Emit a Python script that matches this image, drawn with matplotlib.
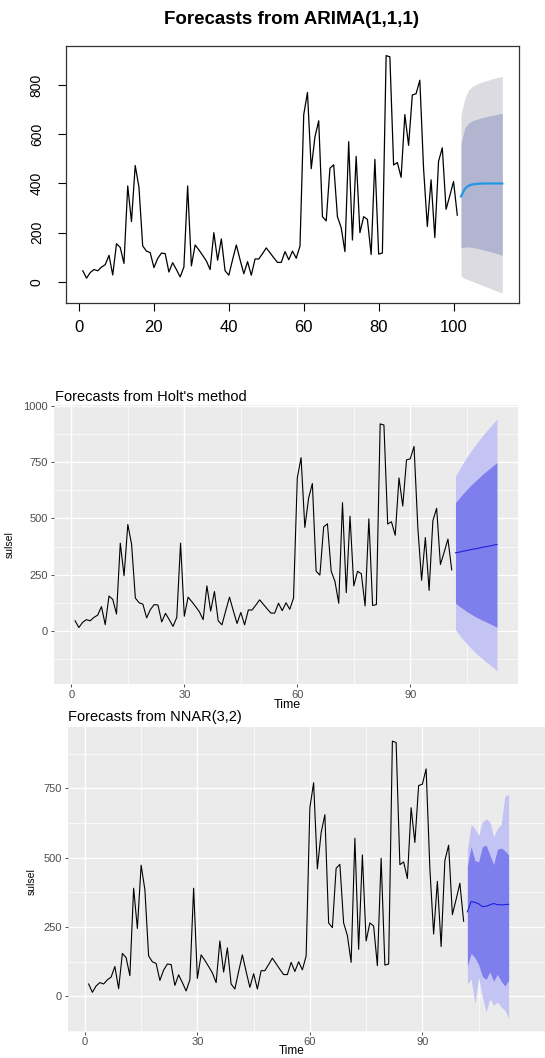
import matplotlib
matplotlib.use("Agg")
import matplotlib.pyplot as plt
import numpy as np

plt.rcParams['font.family'] = ['Liberation Sans', 'DejaVu Sans']

# observed series (t = 1..101)
sulsel = [45, 15, 38, 50, 45, 60, 70, 108, 28, 155,
          140, 75, 390, 245, 473, 385, 146, 125, 119, 58,
          95, 117, 115, 40, 78, 50, 20, 60, 390, 65,
          150, 130, 108, 85, 50, 200, 88, 175, 45, 27,
          90, 150, 90, 33, 82, 27, 93, 93, 115, 138,
          118, 98, 79, 79, 123, 90, 125, 96, 146, 680,
          770, 460, 590, 655, 265, 248, 462, 476, 265, 220,
          123, 570, 170, 510, 200, 265, 254, 111, 498, 113,
          117, 920, 915, 475, 485, 425, 680, 555, 760, 765,
          820, 460, 225, 415, 180, 490, 545, 295, 350, 408,
          271]
time = list(range(1, len(sulsel) + 1))
ftime = list(range(102, 114))

# ARIMA(1,1,1) forecast
arima_mean = [347, 378, 391, 396, 398, 399, 400, 400, 400, 400, 400, 400]
arima_lo80 = [138, 141, 142, 140, 137, 134, 130, 126, 122, 118, 113, 108]
arima_hi80 = [563, 625, 645, 655, 660, 665, 669, 673, 676, 679, 682, 685]
arima_lo95 = [23, 14, 8, 2, -4, -10, -16, -22, -28, -34, -40, -46]
arima_hi95 = [678, 745, 780, 795, 803, 809, 814, 819, 824, 828, 832, 836]

# Holt's method forecast
holt_mean = [347, 350, 354, 357, 361, 364, 367, 371, 374, 377, 381, 384]
holt_lo80 = [124, 110, 98, 86, 76, 66, 57, 49, 41, 33, 25, 16]
holt_hi80 = [570, 590, 610, 628, 646, 662, 677, 693, 707, 721, 735, 748]
holt_lo95 = [6, -17, -38, -58, -75, -92, -108, -122, -136, -149, -162, -178]
holt_hi95 = [688, 717, 746, 772, 797, 820, 842, 864, 884, 903, 922, 941]

# NNAR(3,2) forecast
nnar_mean = [305, 342, 339, 334, 324, 325, 330, 335, 331, 330, 331, 332]
nnar_lo80 = [110, 155, 140, 115, 72, 62, 88, 55, 80, 55, 38, 58]
nnar_hi80 = [470, 540, 490, 485, 540, 545, 510, 475, 530, 535, 525, 510]
nnar_lo95 = [45, 63, -26, 69, -2, -56, -8, -32, -20, -38, -50, -80]
nnar_hi95 = [530, 620, 605, 580, 630, 640, 630, 575, 605, 620, 722, 728]

W, H = 545, 1058
fig = plt.figure(figsize=(W / 100, H / 100), dpi=100)


def px_axes(l, t, r, b):
    return fig.add_axes([l / W, 1 - b / H, (r - l) / W, (b - t) / H])


def ftext(x, y, s, **kw):
    fig.text(x / W, 1 - y / H, s, **kw)


# ---- top: base R style ----
ax1 = px_axes(66, 46, 519, 303)
ax1.fill_between(ftime, arima_lo95, arima_hi95, color='#DBDBE1', lw=0)
ax1.fill_between(ftime, arima_lo80, arima_hi80, color='#B1B5CF', lw=0)
ax1.plot(time, sulsel, color='black', lw=0.9)
ax1.plot(ftime, arima_mean, color='#2297E6', lw=1.6)
ax1.set_xlim(-3.48, 117.48)
ax1.set_ylim(-86, 959)
ax1.set_xticks([0, 20, 40, 60, 80, 100])
ax1.set_yticks([0, 200, 400, 600, 800])
ax1.tick_params(axis='x', direction='out', length=6, width=0.8, labelsize=12, pad=6)
ax1.tick_params(axis='y', direction='out', length=6, width=0.8, labelsize=10, pad=10)
for lab in ax1.get_yticklabels():
    lab.set_rotation(90)
    lab.set_va('center')
for sp in ax1.spines.values():
    sp.set_linewidth(0.9)
    sp.set_color('#333333')
ftext(292, 20, 'Forecasts from ARIMA(1,1,1)', ha='center', va='center',
      fontsize=13.5, fontweight='bold')


# ---- ggplot style panels ----
def gg_panel(ax, xlim, ylim, yticks, yminor):
    ax.set_facecolor('#EBEBEB')
    ax.set_xlim(*xlim)
    ax.set_ylim(*ylim)
    for v in [15, 45, 75, 105]:
        ax.axvline(v, color='white', lw=0.5, zorder=0)
    for v in yminor:
        ax.axhline(v, color='white', lw=0.5, zorder=0)
    for v in [0, 30, 60, 90]:
        ax.axvline(v, color='white', lw=1.0, zorder=0)
    for v in yticks:
        ax.axhline(v, color='white', lw=1.0, zorder=0)
    ax.set_xticks([0, 30, 60, 90])
    ax.set_yticks(yticks)
    ax.tick_params(length=2.5, width=0.6, color='#333333', labelcolor='#4D4D4D',
                   labelsize=8, pad=2)
    ax.tick_params(axis='x', pad=1.5)
    for sp in ax.spines.values():
        sp.set_visible(False)


ax2 = px_axes(54, 405, 518, 684)
gg_panel(ax2, (-4.6, 118.6), (-236, 1004), [0, 250, 500, 750, 1000],
         [-125, 125, 375, 625, 875])
ax2.fill_between(ftime, holt_lo95, holt_hi95, color='#C4C4F4', lw=0)
ax2.fill_between(ftime, holt_lo80, holt_hi80, color='#7E7EEC', lw=0)
ax2.plot(time, sulsel, color='black', lw=0.8)
ax2.plot(ftime, holt_mean, color='#2020E0', lw=0.8)
ftext(55, 397, "Forecasts from Holt's method", ha='left', va='center', fontsize=10.5)
ftext(287, 705, 'Time', ha='center', va='center', fontsize=9)
ftext(10, 545, 'sulsel', ha='center', va='center', fontsize=7.5, rotation=90)

ax3 = px_axes(68, 727, 545, 1032)
gg_panel(ax3, (-4.5, 122.7), (-128, 971), [0, 250, 500, 750],
         [-125, 125, 375, 625, 875])
ax3.tick_params(axis='x', pad=1)
ax3.fill_between(ftime, nnar_lo95, nnar_hi95, color='#C4C4F4', lw=0)
ax3.fill_between(ftime, nnar_lo80, nnar_hi80, color='#7E7EEC', lw=0)
ax3.plot(time, sulsel, color='black', lw=0.8)
ax3.plot(ftime, nnar_mean, color='#2020E0', lw=0.8)
ftext(68, 717, 'Forecasts from NNAR(3,2)', ha='left', va='center', fontsize=10.5)
ftext(292, 1057.5, 'Time', ha='center', va='bottom', fontsize=8.5)
ftext(32, 882, 'sulsel', ha='center', va='center', fontsize=7.5, rotation=90)

fig.savefig('out.png', dpi=100)
